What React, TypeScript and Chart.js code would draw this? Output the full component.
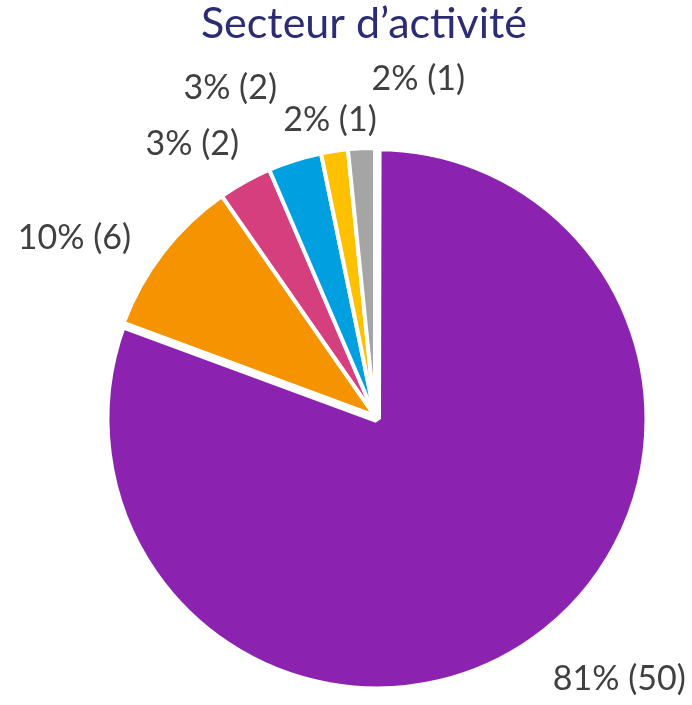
import React, { useEffect, useRef } from "react";
import { Chart, registerables } from "chart.js";

Chart.register(...registerables);

const titleText = "Secteur d’activité";
const categories = ["Secteur 1", "Secteur 2", "Secteur 3", "Secteur 4", "Secteur 5", "Secteur 6"];
const counts = [50, 6, 2, 2, 1, 1];
const sliceColors = ["#8B23B0", "#F59300", "#D63F7D", "#00A0E0", "#FFC000", "#A5A5A5"];

// label placement (style): angular nudge in degrees and distance beyond the rim in px
const labelAngleNudge = [-8.2, -6.9, -4.7, -6.3, 0.1, 10.2];
const labelExtra = [90, 82, 61, 92, 33, 73];

const FONT = "Lato, 'Open Sans', 'DejaVu Sans', sans-serif";

const labelPlugin = {
  id: "sliceLabels",
  afterDatasetsDraw(chart: any) {
    const ctx = chart.ctx;
    const meta = chart.getDatasetMeta(0);
    const total = counts.reduce((a, b) => a + b, 0);
    ctx.save();
    const fs = 34;
    ctx.font = `${fs}px ${FONT}`;
    ctx.fillStyle = "#404040";
    ctx.textAlign = "center";
    ctx.textBaseline = "alphabetic";
    meta.data.forEach((el: any, i: number) => {
      const { x, y, startAngle, endAngle, outerRadius } = el.getProps(
        ["x", "y", "startAngle", "endAngle", "outerRadius"],
        true
      );
      const mid = (startAngle + endAngle) / 2 + (labelAngleNudge[i] * Math.PI) / 180;
      const r = outerRadius + labelExtra[i];
      const lx = x + Math.cos(mid) * r;
      const ly = y + Math.sin(mid) * r;
      const pct = Math.round((counts[i] / total) * 100);
      ctx.fillText(`${pct}% (${counts[i]})`, lx, ly + fs * 0.36);
    });
    ctx.restore();
  },
};

const titlePlugin = {
  id: "customTitle",
  afterDraw(chart: any) {
    const ctx = chart.ctx;
    ctx.save();
    ctx.font = `43px ${FONT}`;
    ctx.fillStyle = "#2B2C74";
    ctx.textAlign = "center";
    ctx.textBaseline = "alphabetic";
    ctx.fillText(titleText, 364, 38);
    ctx.restore();
  },
};

export default function App() {
  const canvasRef = useRef<HTMLCanvasElement | null>(null);

  useEffect(() => {
    if (!canvasRef.current) return;
    const chart = new Chart(canvasRef.current, {
      type: "pie",
      data: {
        labels: categories,
        datasets: [
          {
            data: counts,
            backgroundColor: sliceColors,
            borderColor: "#FFFFFF",
            borderWidth: [8, 4, 4, 4, 4, 4],
            offset: [14, 0, 0, 0, 0, 0],
            hoverOffset: 0,
          },
        ],
      },
      options: {
        animation: false,
        responsive: true,
        maintainAspectRatio: false,
        radius: 268,
        layout: { padding: { left: 58, right: 0, top: 127, bottom: 0 } },
        plugins: {
          legend: { display: false },
          title: { display: false },
          tooltip: { enabled: false },
        },
      },
      plugins: [labelPlugin, titlePlugin],
    });
    return () => chart.destroy();
  }, []);

  return (
    <div style={{ position: "fixed", left: 0, top: 0, width: 692, height: 705, background: "#fff" }}>
      <canvas ref={canvasRef} />
    </div>
  );
}
